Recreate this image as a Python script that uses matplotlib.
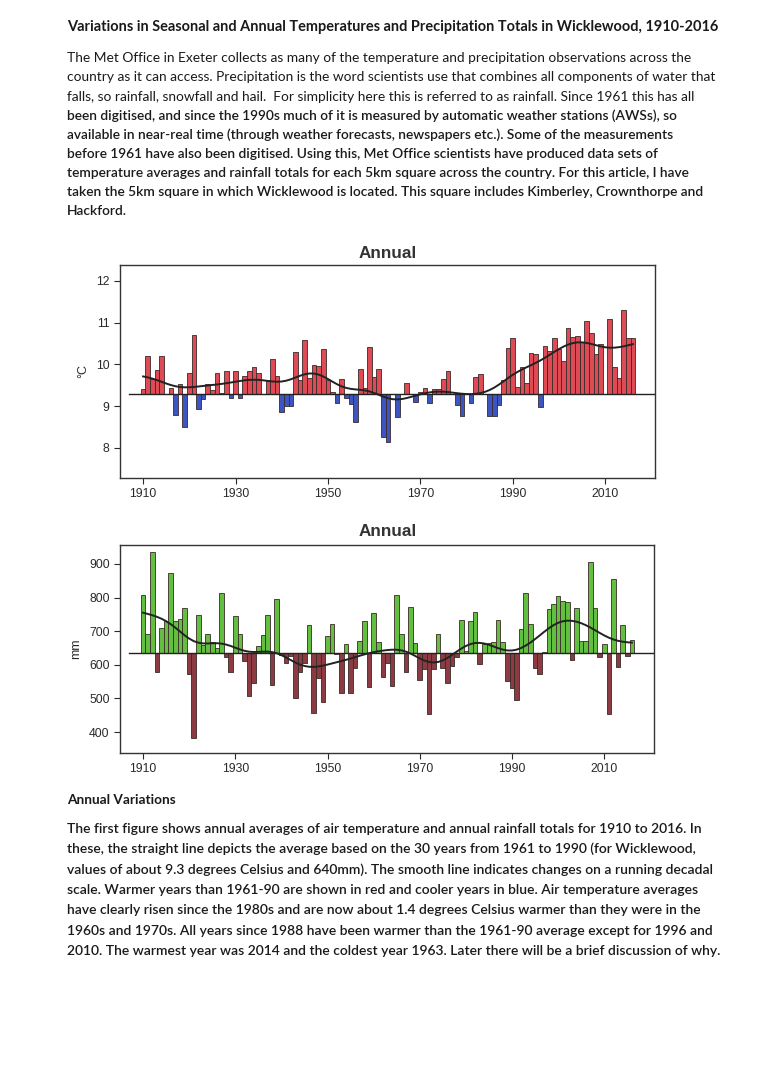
import numpy as np
import matplotlib.pyplot as plt

# ---- data ----
years = list(range(1910, 2017))

temp_base = 9.3
temp = [
    9.40, 10.21, 9.64, 9.87, 10.21, 9.28, 9.44, 8.79, 9.54, 8.51,    # 1910s
    9.79, 10.71, 8.94, 9.18, 9.54, 9.39, 9.80, 9.31, 9.84, 9.19,     # 1920s
    9.84, 9.19, 9.72, 9.84, 9.93, 9.80, 9.29, 9.63, 10.12, 9.72,     # 1930s
    8.87, 9.00, 9.00, 10.30, 9.63, 10.59, 9.67, 9.99, 9.96, 10.36,   # 1940s
    9.63, 9.35, 9.07, 9.64, 9.19, 9.04, 8.61, 9.88, 9.43, 10.42,     # 1950s
    9.69, 9.88, 8.27, 8.14, 9.28, 8.75, 9.30, 9.56, 9.29, 9.11,      # 1960s
    9.33, 9.43, 9.07, 9.41, 9.41, 9.65, 9.84, 9.28, 9.03, 8.77,      # 1970s
    9.28, 9.07, 9.70, 9.78, 9.30, 8.76, 8.76, 9.02, 9.62, 10.40,     # 1980s
    10.64, 9.45, 9.94, 9.56, 10.28, 10.26, 8.98, 10.45, 10.31, 10.64,  # 1990s
    10.37, 10.07, 10.87, 10.65, 10.67, 10.54, 11.03, 10.76, 10.26, 10.50,  # 2000s
    9.28, 11.08, 9.94, 9.67, 11.30, 10.63, 10.63,                    # 2010s
]

rain_base = 635
rain = [
    808, 692, 936, 578, 708, 730, 874, 730, 735, 768,
    574, 382, 748, 660, 691, 668, 650, 813, 624, 578,
    746, 691, 612, 506, 547, 656, 690, 748, 541, 796,
    628, 604, 625, 502, 580, 604, 719, 456, 561, 490,
    687, 722, 633, 517, 661, 517, 592, 670, 729, 533,
    753, 669, 563, 604, 538, 807, 693, 579, 772, 665,
    556, 589, 453, 589, 692, 591, 546, 596, 623, 733,
    641, 731, 756, 602, 662, 664, 668, 732, 669, 553,
    531, 494, 705, 814, 720, 590, 574, 639, 767, 780,
    803, 789, 786, 614, 770, 671, 671, 905, 770, 624,
    662, 453, 854, 594, 719, 626, 675,
]

temp_ticks = [8, 9, 10, 11, 12]
rain_ticks = [400, 500, 600, 700, 800, 900]
year_ticks = [1910, 1930, 1950, 1970, 1990, 2010]

title = "Variations in Seasonal and Annual Temperatures and Precipitation Totals in Wicklewood, 1910-2016"
intro_lines = [
    "The Met Office in Exeter collects as many of the temperature and precipitation observations across the",
    "country as it can access. Precipitation is the word scientists use that combines all components of water that",
    "falls, so rainfall, snowfall and hail.  For simplicity here this is referred to as rainfall. Since 1961 this has all",
    "been digitised, and since the 1990s much of it is measured by automatic weather stations (AWSs), so",
    "available in near-real time (through weather forecasts, newspapers etc.). Some of the measurements",
    "before 1961 have also been digitised. Using this, Met Office scientists have produced data sets of",
    "temperature averages and rainfall totals for each 5km square across the country. For this article, I have",
    "taken the 5km square in which Wicklewood is located. This square includes Kimberley, Crownthorpe and",
    "Hackford.",
]
section_head = "Annual Variations"
body_lines = [
    "The first figure shows annual averages of air temperature and annual rainfall totals for 1910 to 2016. In",
    "these, the straight line depicts the average based on the 30 years from 1961 to 1990 (for Wicklewood,",
    "values of about 9.3 degrees Celsius and 640mm). The smooth line indicates changes on a running decadal",
    "scale. Warmer years than 1961-90 are shown in red and cooler years in blue. Air temperature averages",
    "have clearly risen since the 1980s and are now about 1.4 degrees Celsius warmer than they were in the",
    "1960s and 1970s. All years since 1988 have been warmer than the 1961-90 average except for 1996 and",
    "2010. The warmest year was 2014 and the coldest year 1963. Later there will be a brief discussion of why.",
]

W, H = 768, 1081
TEXT_FONT = ['Lato', 'DejaVu Sans']
CHART_FONT = ['Liberation Sans', 'DejaVu Sans']


def fx(x):
    return x / W


def fy(y):
    return 1 - y / H


def smooth(values, sigma=3.8):
    """gaussian running mean, renormalised at the ends"""
    vals = np.asarray(values, dtype=float)
    idx = np.arange(len(vals))
    out = np.empty_like(vals)
    for i in idx:
        w = np.exp(-0.5 * ((idx - i) / sigma) ** 2)
        out[i] = (w * vals).sum() / w.sum()
    return out


def anomaly_panel(fig, rect, values, base, up_col, down_col, ylim, yticks, ylabel):
    ax = fig.add_axes(rect)
    vals = np.asarray(values, dtype=float)
    colors = [up_col if v >= base else down_col for v in vals]
    ax.bar(years, vals - base, bottom=base, width=1.0, color=colors,
           edgecolor='#3a2a2a', linewidth=0.6, zorder=2)
    ax.plot([1907, 2030], [base, base], color='#222222', lw=1.0, zorder=3)
    ax.plot(years, smooth(vals), color='#222222', lw=1.4, zorder=4)

    ax.set_xlim(1905, 2020.8)
    ax.set_ylim(*ylim)
    ax.set_xticks(year_ticks)
    ax.set_yticks(yticks)
    for lab in ax.get_xticklabels() + ax.get_yticklabels():
        lab.set_family(CHART_FONT)
    ax.tick_params(labelsize=8.8, colors='#2a2a2a', length=4, width=0.8)
    for s in ax.spines.values():
        s.set_color('#333333')
        s.set_linewidth(1.0)
    ax.set_ylabel(ylabel, fontsize=9, color='#2a2a2a', family=CHART_FONT, labelpad=5)
    ax.set_facecolor('white')
    return ax


fig = plt.figure(figsize=(W / 100, H / 100), dpi=100)
fig.patch.set_facecolor('white')

# heading + opening paragraph
fig.text(fx(67), fy(27), title, fontsize=10.45, weight='bold', family=TEXT_FONT,
         color='#1a1a1a', va='center', ha='left')
intro_y = [58, 77, 97, 116, 135, 154, 173, 192, 211]
for i, (line, y) in enumerate(zip(intro_lines, intro_y)):
    fig.text(fx(67), fy(y), line, fontsize=9.93, family=TEXT_FONT,
             weight='normal' if i < 3 else 'semibold',
             color='#1a1a1a', va='center', ha='left')

# temperature panel
ax1 = anomaly_panel(fig, [fx(120), fy(478), fx(655) - fx(120), fy(265) - fy(478)],
                    temp, temp_base, '#de4b55', '#3d55c2', (7.28, 12.38),
                    temp_ticks, '°C')
fig.text(fx(388), fy(253), 'Annual', fontsize=12.3, weight='bold',
         family=CHART_FONT, color='#333333', ha='center', va='center')

# rainfall panel
ax2 = anomaly_panel(fig, [fx(120), fy(753), fx(654) - fx(120), fy(545) - fy(753)],
                    rain, rain_base, '#62bf3f', '#8c3b43', (338, 956),
                    rain_ticks, 'mm')
fig.text(fx(388), fy(532), 'Annual', fontsize=12.3, weight='bold',
         family=CHART_FONT, color='#333333', ha='center', va='center')

# closing section
fig.text(fx(67), fy(800), section_head, fontsize=9.85, weight='bold', family=TEXT_FONT,
         color='#1a1a1a', va='center', ha='left')
body_y = [829, 849, 870, 890, 910, 931, 951]
for line, y in zip(body_lines, body_y):
    fig.text(fx(67), fy(y), line, fontsize=10.0, family=TEXT_FONT, weight='semibold',
             color='#1a1a1a', va='center', ha='left')

fig.savefig('out.png', dpi=100, facecolor='white')
plt.close(fig)
